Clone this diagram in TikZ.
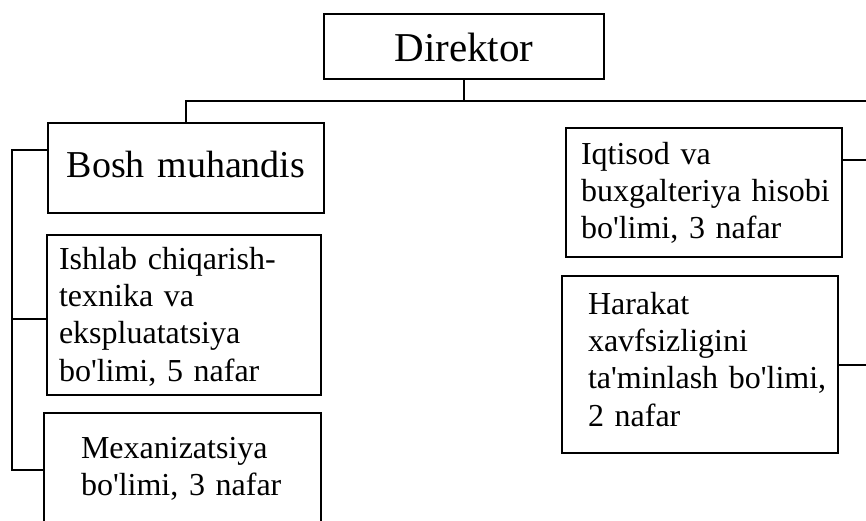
\documentclass[tikz,border=0pt]{standalone}
\usepackage{fontspec}
\setmainfont{Liberation Serif}[Ligatures=TeXOff]
\usepackage{tikz}

\begin{document}
\begin{tikzpicture}[x=0.5pt, y=-0.5pt, line width=1pt]
        \tikzset{
           unit/.style={
                        rectangle,
                        draw=black,
                        fill=none,
                        text=black,
                        anchor=north west,
                        align=left,
                        inner ysep=0pt,
                        font=\fontsize{16}{18.7}\selectfont
                       },
           head/.style={
                        unit,
                        align=center,
                        inner xsep=0pt
                       },
                 };
        \useasboundingbox (0,0) rectangle (866,520);
    %--------------------
        \node[head, text width=140pt, text height=23.5pt, text depth=9pt,
              font=\fontsize{20.5}{24}\selectfont]      (direktor) at (323,13) {Direktor};

        \node[head, text width=138pt, text height=27pt, text depth=18pt,
              font=\fontsize{19}{22}\selectfont]       (boshMuh) at (47,122) {\mbox{Bosh muhandis}};
        \node[unit, inner xsep=6pt, text width=125pt, text height=17pt, text depth=63pt]
                                                       (ishlab) at (46,234) {\mbox{Ishlab chiqarish-}\\texnika va\\ekspluatatsiya\\\mbox{bo'limi, 5 nafar}};
        \node[unit, inner xsep=18.5pt, text width=101.5pt, text height=22.5pt, text depth=52pt]
                                                       (mexan) at (43,412) {Mexanizatsiya\\\mbox{bo'limi, 3 nafar}};

        \node[unit, inner xsep=7.5pt, text width=123pt, text height=18pt, text depth=46.5pt]
                                                       (iqtisod) at (565,127) {Iqtisod va\\\mbox{buxgalteriya hisobi}\\\mbox{bo'limi, 3 nafar}};
        \node[unit, inner xsep=13pt, text width=112pt, text height=19pt, text depth=69.5pt]
                                                       (harakat) at (561,275) {Harakat\\xavfsizligini\\\mbox{ta'minlash bo'limi,}\\2 nafar};
    %--------------------
        \coordinate (topBus) at (866,101);
        \coordinate (leftA)  at (12,150);
        \coordinate (leftB)  at (12,319);
        \coordinate (leftC)  at (12,470);
        \coordinate (rightA) at (866,160);
        \coordinate (rightB) at (866,365);

        \draw (direktor.south) -- (direktor.south |- topBus);
        \draw (boshMuh.north) |- (topBus);
        \draw (boshMuh.west |- leftA) -- (leftA) -- (leftC) -- (mexan.west |- leftC);
        \draw (leftB) -- (ishlab.west |- leftB);
        \draw (iqtisod.east |- rightA) -- (rightA);
        \draw (harakat.east |- rightB) -- (rightB);
    \end{tikzpicture}
\end{document}
